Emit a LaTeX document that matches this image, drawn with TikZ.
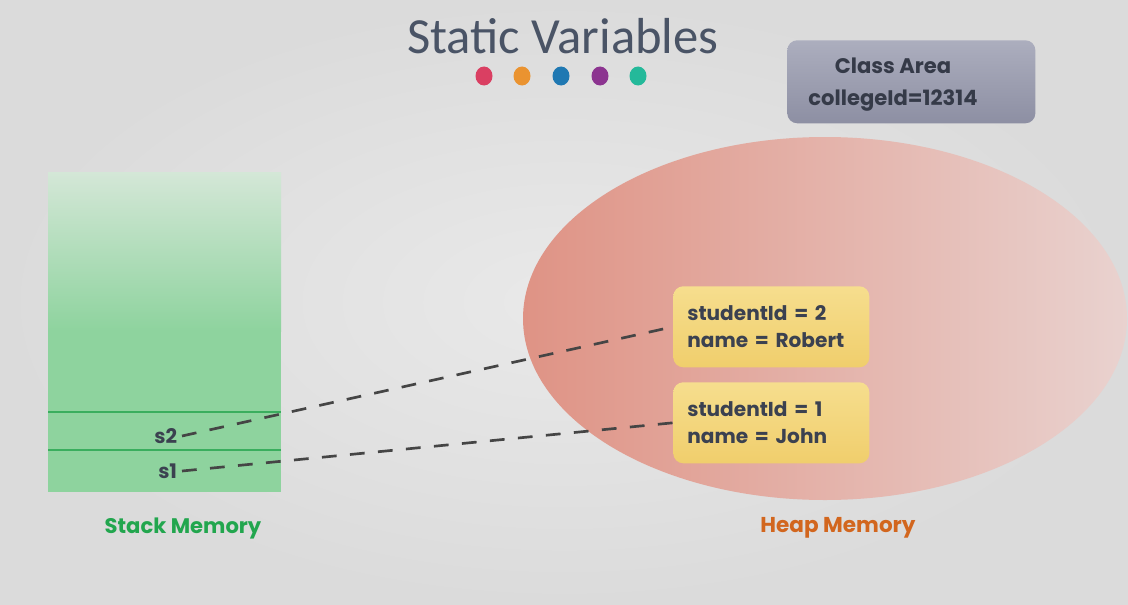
\documentclass[tikz,border=0pt]{standalone}
\usepackage{fontspec}
\setmainfont{Poppins}
\newfontfamily\titlefont{Carlito}
\definecolor{bgcenter}{HTML}{E9E9E9}
\definecolor{bgouter}{HTML}{DBDBDB}
\definecolor{titlegray}{HTML}{4A5466}
\definecolor{dotred}{HTML}{DA3F62}
\definecolor{dotorange}{HTML}{EA9330}
\definecolor{dotblue}{HTML}{1F78B2}
\definecolor{dotpurple}{HTML}{8C3490}
\definecolor{dotteal}{HTML}{24B99A}
\definecolor{stackfade}{HTML}{D4E7D7}
\definecolor{stackgreen}{HTML}{8ED39E}
\definecolor{stackline}{HTML}{3AAE5E}
\definecolor{stacklabel}{HTML}{22A64E}
\definecolor{heapleft}{HTML}{DF9385}
\definecolor{heapright}{HTML}{E9D2CF}
\definecolor{heaplabel}{HTML}{D2661E}
\definecolor{objtop}{HTML}{F6DE8E}
\definecolor{objbottom}{HTML}{F0CE6C}
\definecolor{classtop}{HTML}{ACAEBE}
\definecolor{classbottom}{HTML}{8D8FA3}
\definecolor{textdark}{HTML}{3B4150}
\definecolor{linkgray}{HTML}{454545}
\begin{document}
\begin{tikzpicture}[x=0.025cm,y=-0.025cm,
  bodytext/.style={text=textdark,font=\bfseries\fontsize{14.3}{19.2}\selectfont},
  objbox/.style={bodytext,rounded corners=0.25cm,top color=objtop,bottom color=objbottom,
    anchor=north west,minimum width=4.9cm,minimum height=2.025cm,text width=4.2cm,inner xsep=0.35cm,align=left},
  link/.style={linkgray,line width=1.9pt,dash pattern=on 10.5pt off 9.5pt}]
\useasboundingbox (0,0) rectangle (1128,604);
\shade[inner color=bgcenter,outer color=bgouter] (0,0) rectangle (1128,604);
\node[titlegray,font=\titlefont\fontsize{36}{40}\selectfont] (title) at (563,36) {Static Variables};
\fill[dotred] (484,76) ellipse [x radius=8.5,y radius=9.5];
\fill[dotorange] (522,76) ellipse [x radius=8.5,y radius=9.5];
\fill[dotblue] (561,76) ellipse [x radius=8.5,y radius=9.5];
\fill[dotpurple] (600,76) ellipse [x radius=8.5,y radius=9.5];
\fill[dotteal] (638,76) ellipse [x radius=8.5,y radius=9.5];
% class area
\node[rounded corners=0.25cm,top color=classtop,bottom color=classbottom,anchor=north west,
  minimum width=6.2cm,minimum height=2.075cm] (classarea) at (787,40) {};
\node[text=textdark!90!black,align=center,font=\bfseries\fontsize{15}{22.8}\selectfont] (classtext) at (893,85) {Class Area\\collegeId=12314};
% stack
\fill[stackgreen] (48,330) rectangle (281,492);
\shade[top color=stackfade,bottom color=stackgreen] (48,172) rectangle (281,331);
\draw[stackline,line width=1.4pt] (48,412)--(281,412);
\draw[stackline,line width=1.4pt] (48,450)--(281,450);
\node[bodytext,anchor=east] (s2) at (182,436) {s2};
\node[bodytext,anchor=east] (s1) at (182,471) {s1};
\node[stacklabel,font=\bfseries\fontsize{15}{16}\selectfont] (stacklbl) at (183,528) {Stack Memory};
% heap
\shade[left color=heapleft,right color=heapright] (825,318.5) ellipse [x radius=302,y radius=181.5];
\node[objbox] (obj2) at (673,286) {studentId = 2\\name = Robert};
\node[objbox] (obj1) at (673,382) {studentId = 1\\name = John};
\node[heaplabel,font=\bfseries\fontsize{15.3}{16}\selectfont] (heaplbl) at (838,528) {Heap Memory};
\draw[link] (s2.east)--(obj2.west);
\draw[link] (s1.east)--(obj1.west);
\end{tikzpicture}
\end{document}
